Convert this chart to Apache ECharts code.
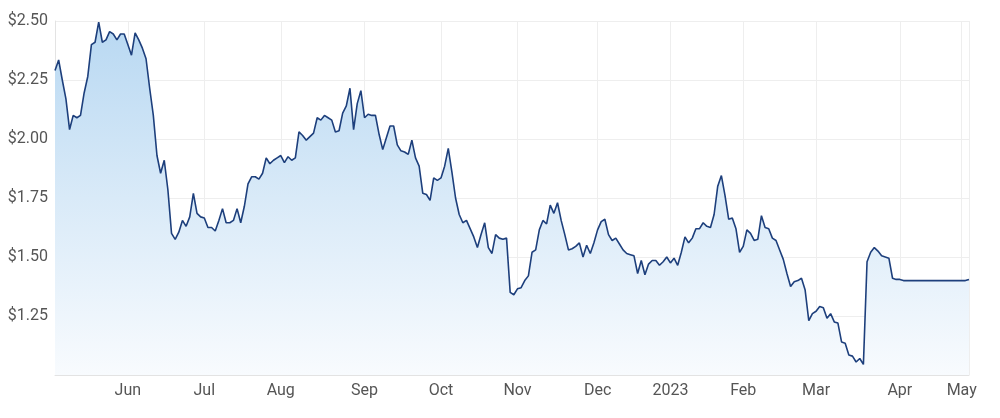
<!DOCTYPE html>
<html>
<head>
<meta charset="utf-8">
<script src="https://cdn.jsdelivr.net/npm/echarts@6/dist/echarts.min.js"></script>
<style>
  html, body { margin: 0; padding: 0; background: #fff; }
  #chart { width: 1000px; height: 418px; }
</style>
</head>
<body>
<div id="chart"></div>
<script>
// Trading calendar (ASX) for the range shown
const firstDay = '2022-05-04'
const lastDay = '2023-05-03'
const holidays = ['2022-06-13', '2022-09-22', '2022-12-26', '2022-12-27',
  '2023-01-02', '2023-01-26', '2023-04-07', '2023-04-10', '2023-04-25']
const monthNames = ['Jan', 'Feb', 'Mar', 'Apr', 'May', 'Jun',
  'Jul', 'Aug', 'Sep', 'Oct', 'Nov', 'Dec']

// Closing prices, one per trading day
const prices = [
  2.29, 2.335, 2.25, 2.17, 2.04, 2.10, 2.09, 2.10, 2.195, 2.265,
  2.40, 2.41, 2.495, 2.41, 2.42, 2.455, 2.445, 2.42, 2.445, 2.445,
  2.40, 2.355, 2.45, 2.42, 2.385, 2.34, 2.215, 2.10, 1.93, 1.855,
  1.91, 1.785, 1.60, 1.575, 1.605, 1.655, 1.63, 1.67, 1.77, 1.685,
  1.67, 1.665, 1.625, 1.625, 1.61, 1.655, 1.705, 1.645, 1.645, 1.655,
  1.705, 1.645, 1.715, 1.81, 1.84, 1.84, 1.83, 1.855, 1.92, 1.895,
  1.91, 1.92, 1.93, 1.90, 1.925, 1.91, 1.92, 2.03, 2.015, 1.995,
  2.01, 2.025, 2.09, 2.08, 2.10, 2.09, 2.08, 2.03, 2.035, 2.11,
  2.14, 2.215, 2.04, 2.15, 2.205, 2.09, 2.105, 2.10, 2.10, 2.02,
  1.955, 2.005, 2.055, 2.055, 1.975, 1.95, 1.945, 1.935, 1.995, 1.92,
  1.885, 1.77, 1.765, 1.74, 1.835, 1.825, 1.835, 1.885, 1.96, 1.86,
  1.75, 1.68, 1.645, 1.655, 1.62, 1.585, 1.54, 1.595, 1.645, 1.54,
  1.515, 1.595, 1.58, 1.575, 1.58, 1.35, 1.34, 1.365, 1.37, 1.40,
  1.42, 1.52, 1.53, 1.615, 1.655, 1.64, 1.72, 1.685, 1.73, 1.655,
  1.595, 1.53, 1.535, 1.545, 1.56, 1.50, 1.55, 1.515, 1.56, 1.615,
  1.65, 1.66, 1.595, 1.57, 1.58, 1.555, 1.53, 1.515, 1.51, 1.505,
  1.43, 1.485, 1.425, 1.47, 1.485, 1.485, 1.465, 1.48, 1.50, 1.475,
  1.495, 1.465, 1.52, 1.585, 1.56, 1.58, 1.62, 1.62, 1.645, 1.63,
  1.625, 1.68, 1.80, 1.845, 1.76, 1.66, 1.665, 1.62, 1.52, 1.545,
  1.615, 1.60, 1.57, 1.575, 1.675, 1.625, 1.62, 1.58, 1.57, 1.53,
  1.49, 1.43, 1.375, 1.395, 1.40, 1.41, 1.36, 1.23, 1.26, 1.27,
  1.29, 1.285, 1.24, 1.26, 1.225, 1.22, 1.14, 1.135, 1.085, 1.08,
  1.055, 1.07, 1.045, 1.48, 1.52, 1.54, 1.525, 1.505, 1.50, 1.495,
  1.41, 1.405, 1.405, 1.40, 1.40, 1.40, 1.40, 1.40, 1.40, 1.40,
  1.40, 1.40, 1.40, 1.40, 1.40, 1.40, 1.40, 1.40, 1.40, 1.40,
  1.40, 1.405
]

// Build the list of trading days
const dates = []
let d = new Date(firstDay + 'T00:00:00Z')
const end = new Date(lastDay + 'T00:00:00Z')
while (d <= end) {
  const iso = d.toISOString().slice(0, 10)
  const wd = d.getUTCDay()
  if (wd !== 0 && wd !== 6 && !holidays.includes(iso)) dates.push(iso)
  d = new Date(d.getTime() + 86400000)
}

// First trading day of each month (skip the first data point)
function isMonthStart(index) {
  return index > 0 && dates[index].slice(0, 7) !== dates[index - 1].slice(0, 7)
}

function monthLabel(value) {
  const m = Number(value.slice(5, 7)) - 1
  return m === 0 ? value.slice(0, 4) : monthNames[m]
}

const textColor = '#555'
const gridLineColor = '#eeeeee'

const chart = echarts.init(document.getElementById('chart'))
chart.setOption({
  animation: false,
  grid: { left: 55, right: 31, top: 21, bottom: 43 },
  xAxis: {
    type: 'category',
    data: dates,
    boundaryGap: false,
    axisLine: { lineStyle: { color: '#e3e3e3' } },
    axisTick: { show: false },
    axisLabel: {
      interval: (index) => isMonthStart(index),
      formatter: monthLabel,
      color: textColor,
      fontSize: 16,
      fontFamily: 'Roboto',
      margin: 8
    },
    splitLine: {
      show: true,
      interval: (index) => isMonthStart(index) || index === dates.length - 1,
      lineStyle: { color: gridLineColor }
    }
  },
  yAxis: {
    type: 'value',
    min: 1,
    max: 2.5,
    interval: 0.25,
    axisLine: { show: true, lineStyle: { color: '#e3e3e3' } },
    axisTick: { show: false },
    axisLabel: {
      showMinLabel: false,
      formatter: (v) => '$' + v.toFixed(2),
      color: textColor,
      fontSize: 16,
      fontFamily: 'Roboto',
      margin: 7
    },
    splitLine: { lineStyle: { color: gridLineColor } }
  },
  series: [{
    type: 'line',
    data: prices,
    symbol: 'none',
    lineStyle: { color: '#1d3f7c', width: 1.6 },
    areaStyle: {
      opacity: 1,
      color: new echarts.graphic.LinearGradient(0, 0, 0, 1, [
        { offset: 0, color: '#b8d8f2' },
        { offset: 0.5, color: '#d9eaf8' },
        { offset: 1, color: '#f8fbfe' }
      ])
    }
  }]
})
</script>
</body>
</html>
